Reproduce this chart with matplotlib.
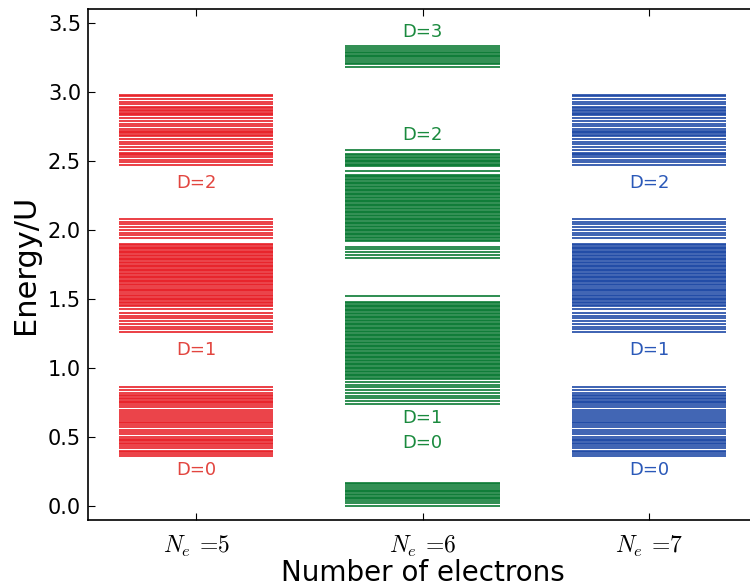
import matplotlib
matplotlib.use("Agg")
import matplotlib.pyplot as plt

# ---------------- data ----------------
categories = [5, 6, 7]
tick_labels = [r"$N_e$ =5", r"$N_e$ =6", r"$N_e$ =7"]

# N_e = 5 energy levels (Energy/U), grouped by number of doublons D
n5_d0 = [0.36, 0.375, 0.39, 0.40, 0.42, 0.435, 0.45, 0.46, 0.47, 0.48, 0.49,
         0.50, 0.52, 0.54, 0.555, 0.57, 0.585, 0.60, 0.61, 0.625, 0.64, 0.655,
         0.67, 0.68, 0.70, 0.715, 0.73, 0.745, 0.755, 0.765, 0.775, 0.785,
         0.795, 0.805, 0.82, 0.84, 0.86]
n5_d1 = [1.26, 1.28, 1.30, 1.32, 1.34, 1.36, 1.38, 1.40, 1.43,
         1.45, 1.46, 1.47, 1.48, 1.49, 1.50, 1.51, 1.52, 1.53, 1.545, 1.555,
         1.565, 1.575, 1.585, 1.60, 1.61, 1.62, 1.63, 1.64, 1.65, 1.66, 1.67,
         1.68, 1.69, 1.70, 1.71, 1.72, 1.73, 1.74, 1.75, 1.76, 1.77, 1.78,
         1.79, 1.80, 1.81, 1.82, 1.83, 1.84, 1.85, 1.86, 1.87, 1.88, 1.89,
         1.90, 1.94, 1.96, 1.98, 2.00, 2.02, 2.04, 2.06, 2.08]
n5_d2 = [2.47, 2.49, 2.51, 2.53, 2.54, 2.55, 2.56, 2.58, 2.60, 2.62, 2.64,
         2.66, 2.68, 2.69, 2.70, 2.71, 2.72, 2.73, 2.75, 2.77, 2.79, 2.81,
         2.83, 2.84, 2.85, 2.86, 2.87, 2.88, 2.89, 2.91, 2.93, 2.95, 2.97, 2.98]

# N_e = 6 energy levels
n6_d0 = [0.0, 0.02, 0.035, 0.05, 0.06, 0.07, 0.08, 0.09, 0.10, 0.11, 0.12,
         0.13, 0.145, 0.16, 0.17]
n6_d1 = [0.74, 0.76, 0.78, 0.80, 0.82, 0.84, 0.86, 0.88, 0.90, 0.92,
         0.93, 0.94, 0.95, 0.96, 0.97, 0.98, 0.99, 1.00, 1.01, 1.02, 1.03,
         1.04, 1.05, 1.06, 1.07, 1.08, 1.09, 1.10, 1.11, 1.12, 1.13, 1.14,
         1.15, 1.16, 1.17, 1.18, 1.19, 1.20, 1.21, 1.22, 1.23, 1.24, 1.25,
         1.26, 1.27, 1.28, 1.29, 1.30, 1.31, 1.32, 1.33, 1.34, 1.35, 1.36,
         1.37, 1.38, 1.39, 1.40, 1.41, 1.42, 1.43, 1.44, 1.45, 1.46, 1.47,
         1.48, 1.52]
n6_d2 = [1.80, 1.82, 1.84, 1.86, 1.88,
         1.92, 1.93, 1.94, 1.95, 1.96, 1.97, 1.98, 1.99, 2.00, 2.01, 2.02,
         2.03, 2.04, 2.05, 2.06, 2.07, 2.08, 2.09, 2.10, 2.11, 2.12, 2.13,
         2.14, 2.15, 2.16, 2.17, 2.18, 2.19, 2.20, 2.21, 2.22, 2.23, 2.24,
         2.25, 2.26, 2.27, 2.28, 2.29, 2.30, 2.31, 2.32, 2.33, 2.34, 2.35,
         2.36, 2.37, 2.38, 2.39, 2.40, 2.43, 2.46, 2.47, 2.48, 2.49, 2.50,
         2.51, 2.52, 2.53, 2.54, 2.55, 2.58]
n6_d3 = [3.18, 3.20, 3.21, 3.22, 3.235, 3.25, 3.26, 3.27, 3.28, 3.29, 3.30,
         3.315, 3.33]

# N_e = 7 spectrum is identical to N_e = 5 (particle-hole symmetry)
n7_d0 = list(n5_d0)
n7_d1 = list(n5_d1)
n7_d2 = list(n5_d2)

# band labels: (category, energy position, text)
labels_n5 = [(5, 0.26, "D=0"), (5, 1.13, "D=1"), (5, 2.34, "D=2")]
labels_n6 = [(6, 0.455, "D=0"), (6, 0.635, "D=1"), (6, 2.69, "D=2"), (6, 3.43, "D=3")]
labels_n7 = [(7, 0.26, "D=0"), (7, 1.13, "D=1"), (7, 2.34, "D=2")]

# ---------------- styling ----------------
plt.rcParams['font.family'] = ['DejaVu Sans']
plt.rcParams['mathtext.fontset'] = 'cm'

line_colors = {5: "#e81f26", 6: "#0a7a34", 7: "#1d48a5"}
text_colors = {5: "#e2453f", 6: "#1a8a3e", 7: "#2a58b8"}
half_width = 0.34

fig = plt.figure(figsize=(7.5, 5.86), dpi=100)
ax = fig.add_axes([88 / 750, 66 / 586, 669 / 750, 511 / 586])

groups = {5: [n5_d0, n5_d1, n5_d2], 6: [n6_d0, n6_d1, n6_d2, n6_d3],
          7: [n7_d0, n7_d1, n7_d2]}
for cat, bands in groups.items():
    for band in bands:
        ax.hlines(band, cat - half_width, cat + half_width,
                  colors=line_colors[cat], linewidth=1.2)

for cat, y, txt in labels_n5 + labels_n6 + labels_n7:
    ax.text(cat, y, txt, color=text_colors[cat], fontsize=13,
            ha='center', va='center')

ax.set_xlim(4.523, 7.477)
ax.set_ylim(-0.1, 3.6)
ax.set_xticks(categories)
ax.set_xticklabels(tick_labels, fontsize=17, fontfamily='cmr10')
ax.set_yticks([0.0, 0.5, 1.0, 1.5, 2.0, 2.5, 3.0, 3.5])
ax.set_yticklabels(["0.0", "0.5", "1.0", "1.5", "2.0", "2.5", "3.0", "3.5"])
ax.tick_params(axis='both', direction='in', top=True, right=True,
               length=5, width=0.8)
ax.tick_params(axis='y', labelsize=15, pad=5)
ax.tick_params(axis='x', pad=10)
for sp in ax.spines.values():
    sp.set_linewidth(1.2)

ax.set_xlabel("Number of electrons", fontsize=20, labelpad=0)
ax.set_ylabel("Energy/U", fontsize=22, labelpad=6)

fig.savefig("out.png", dpi=100)
